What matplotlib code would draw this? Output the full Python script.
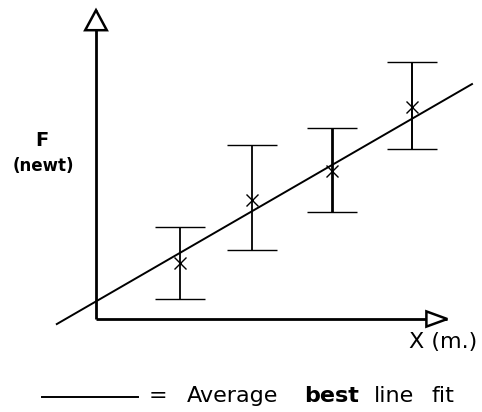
import matplotlib

matplotlib.use("Agg")
import matplotlib.pyplot as plt
import numpy as np
from matplotlib.lines import Line2D
from matplotlib.patches import Polygon

# readings (arbitrary units, origin at the axes corner)
x_vals = [2.1, 3.9, 5.9, 7.9]
f_vals = [1.4, 2.98, 3.7, 5.3]
f_low = [0.5, 1.73, 2.68, 4.25]
f_high = [2.3, 4.35, 4.78, 6.43]
bar_widths = [1.3, 1.3, 2.0, 1.4]

# average best line fit
fit_slope = 0.578
fit_intercept = 0.44
fit_x = [-0.98, 9.4]

x_axis_end = 8.78
y_axis_end = 7.72

W, H = 482, 412
fig = plt.figure(figsize=(W / 100, H / 100), dpi=100)
ax = fig.add_axes([0, 0, 1, 1])
# 1 unit = 40 px, origin at pixel (96, 319)
ax.set_xlim(-96 / 40, (W - 96) / 40)
ax.set_ylim(-(H - 319) / 40, 319 / 40)
ax.axis("off")

# axes with open arrow heads
ax.plot([0, 0], [0, y_axis_end], color="black", lw=2.0, solid_capstyle="butt")
ax.plot([0, x_axis_end], [0, 0], color="black", lw=2.0, solid_capstyle="butt")
ax.add_patch(Polygon([[0, y_axis_end], [-0.27, y_axis_end - 0.5], [0.27, y_axis_end - 0.5]],
                     closed=True, fc="white", ec="black", lw=1.8, zorder=3))
ax.add_patch(Polygon([[x_axis_end, 0], [x_axis_end - 0.52, 0.19], [x_axis_end - 0.52, -0.19]],
                     closed=True, fc="white", ec="black", lw=1.8, zorder=3))

# best fit line
fx = np.array(fit_x)
ax.plot(fx, fit_slope * fx + fit_intercept, color="black", lw=1.4)

# data points with error bars
for x, f, lo, hi, lw in zip(x_vals, f_vals, f_low, f_high, bar_widths):
    ax.errorbar([x], [f], yerr=[[f - lo], [hi - f]], fmt="x", color="black",
                ms=8, mew=1.0, elinewidth=lw, capsize=18, capthick=1.8)

# labels
def px(x, y):
    return x / W, 1 - y / H

fig.text(*px(42, 140), "F", ha="center", va="center", fontsize=14, fontweight="bold")
fig.text(*px(43, 166), "(newt)", ha="center", va="center", fontsize=12, fontweight="bold")
fig.text(*px(409, 342), "X (m.)", ha="left", va="center", fontsize=16)

# hand-drawn style key below the plot
fig.add_artist(Line2D([42 / W, 138 / W], [1 - 397 / H] * 2, color="black", lw=1.4))
fig.text(*px(149, 396), "=", ha="left", va="center", fontsize=16)
fig.text(*px(187, 396), "Average", ha="left", va="center", fontsize=16)
fig.text(*px(304, 396), "best", ha="left", va="center", fontsize=16, fontweight="bold")
fig.text(*px(374, 396), "line", ha="left", va="center", fontsize=16)
fig.text(*px(432, 396), "fit", ha="left", va="center", fontsize=16)

fig.savefig("out.png", dpi=100)
